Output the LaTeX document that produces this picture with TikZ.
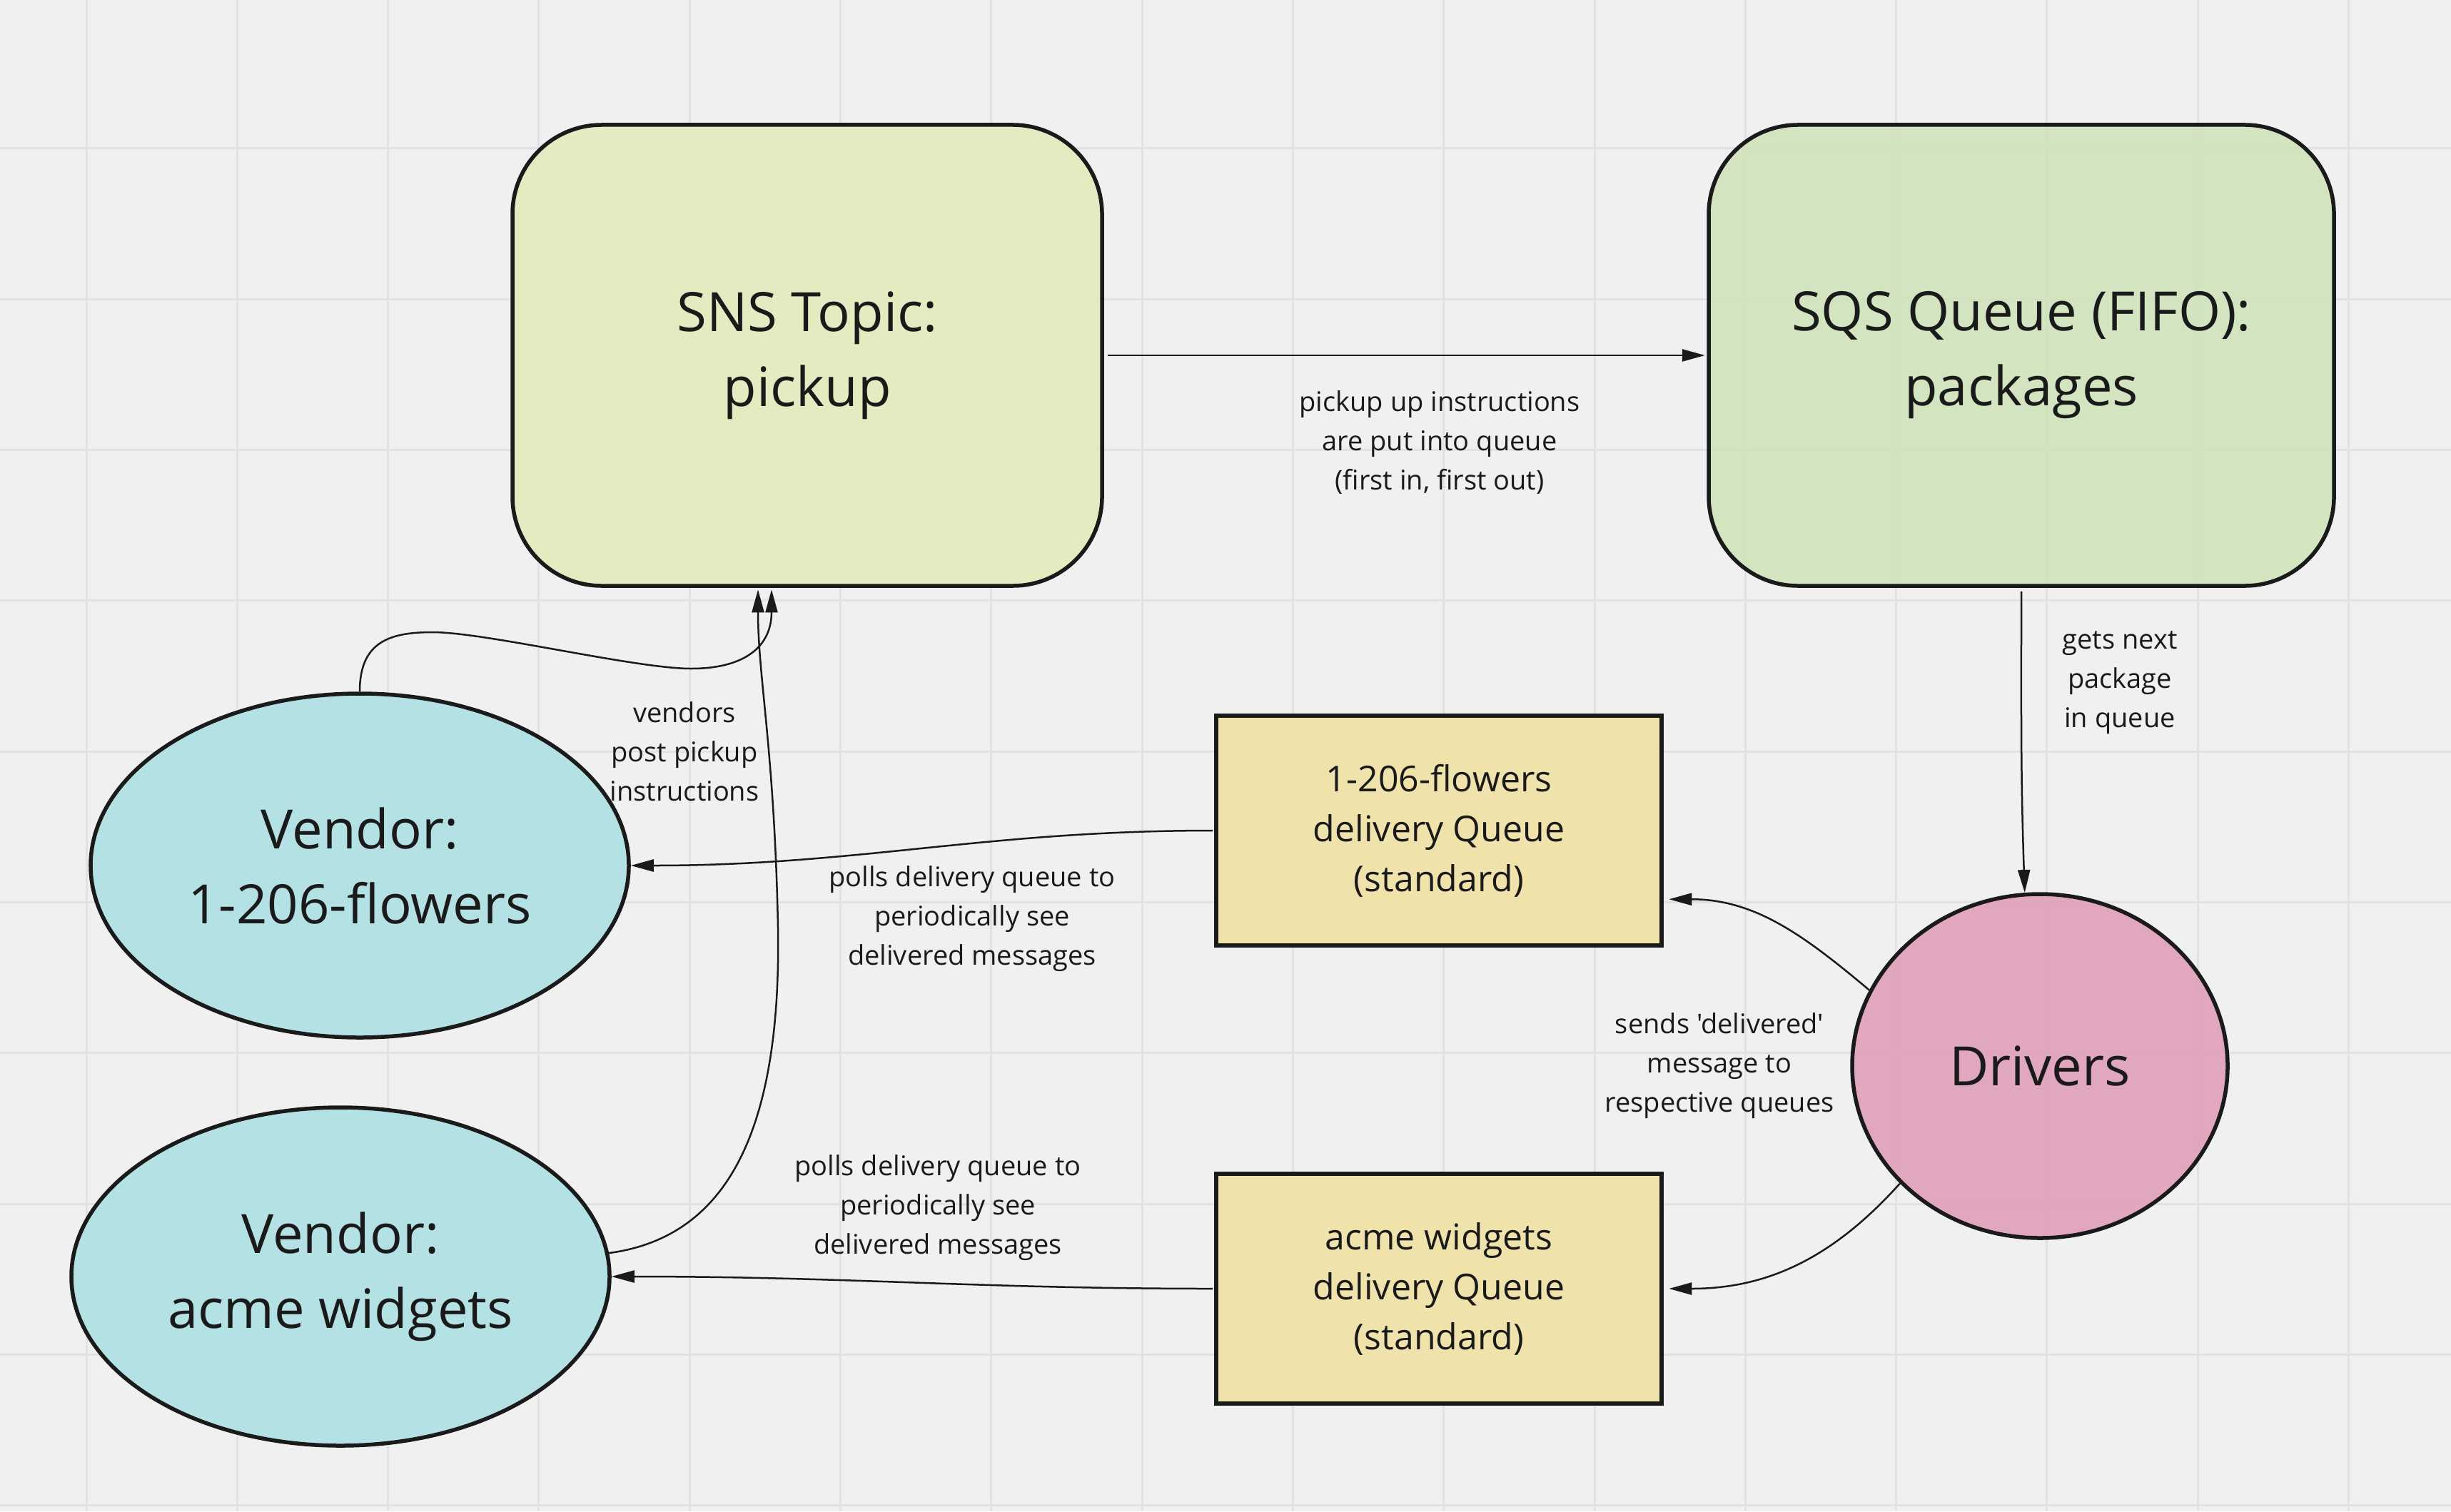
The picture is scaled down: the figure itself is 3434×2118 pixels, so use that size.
\documentclass[tikz,border=0pt]{standalone}
\usepackage{fontspec}
\setmainfont{Open Sans}[Ligatures=TeXOff]
\usetikzlibrary{shapes.geometric,arrows.meta,calc}
\definecolor{bg}{HTML}{F0F0F0}
\definecolor{gridc}{HTML}{E2E2E2}
\definecolor{snsc}{HTML}{E4EBBD}
\definecolor{sqsc}{HTML}{D1E3BC}
\definecolor{vendc}{HTML}{AEE0E4}
\definecolor{queuec}{HTML}{F1E1A6}
\definecolor{drvc}{HTML}{DFA1BB}
\definecolor{ink}{HTML}{1A1A1A}
\begin{document}
\begin{tikzpicture}[x=0.2pt,y=-0.2pt,
  bigbox/.style={draw=ink, line width=1.1pt, rounded corners=25pt, align=center, inner sep=0pt,
    minimum height=129.2pt, font=\fontsize{15.2}{21}\selectfont, text=ink, fill opacity=0.92, text opacity=1},
  oval/.style={ellipse, draw=ink, line width=1.1pt, align=center, inner sep=0pt,
    font=\fontsize{15.2}{21}\selectfont, text=ink, fill opacity=0.92, text opacity=1},
  qbox/.style={draw=ink, line width=1.1pt, align=center, inner sep=0pt, minimum width=124.8pt,
    minimum height=64.4pt, fill=queuec, font=\fontsize{10}{14}\selectfont, text=ink, fill opacity=0.92, text opacity=1},
  lbl/.style={align=center, font=\fontsize{7.6}{11}\selectfont, text=ink, inner sep=0pt},
  conn/.style={draw=ink, line width=0.5pt, -{Triangle[length=6.4pt,width=3.4pt]}},
]
\fill[bg] (0,0) rectangle (3434,2118);
\useasboundingbox (0,0) rectangle (3434,2118);
\foreach \i in {0,...,15} \draw[gridc, line width=0.6pt] ({121+211.3*\i},0) -- ({121+211.3*\i},2118);
\foreach \j in {0,...,9} \draw[gridc, line width=0.6pt] (0,{208+211.3*\j}) -- (3434,{208+211.3*\j});

% nodes
\node[bigbox, fill=snsc, minimum width=165.2pt] (sns) at (1131,498) {SNS Topic:\\pickup};
\node[bigbox, fill=sqsc, minimum width=175.2pt] (sqs) at (2832,498) {SQS Queue (FIFO):\\packages};
\node[oval, fill=vendc, minimum width=150.8pt, minimum height=96.4pt] (v1) at (504,1213) {Vendor:\\1-206-flowers};
\node[oval, fill=vendc, minimum width=150.8pt, minimum height=94.8pt] (v2) at (477,1789) {Vendor:\\acme widgets};
\node[qbox] (q1) at (2016,1164) {1-206-flowers\\delivery Queue\\(standard)};
\node[qbox] (q2) at (2016,1806) {acme widgets\\delivery Queue\\(standard)};
\node[oval, fill=drvc, minimum width=105.2pt, minimum height=96.4pt] (drv) at (2858,1494) {Drivers};

% labels
\node[lbl] (l1) at (2017,620) {pickup up instructions\\are put into queue\\(first in, first out)};
\node[lbl] (l2) at (2970,957) {gets next\\package\\in queue};
\node[lbl] (l3) at (2409,1494) {sends 'delivered'\\message to\\respective queues};
\node[lbl] (l4) at (1362,1288) {polls delivery queue to\\periodically see\\delivered messages};
\node[lbl] (l5) at (1314,1693) {polls delivery queue to\\periodically see\\delivered messages};
\node[lbl] (l6) at (959,1053) {vendors\\post pickup\\instructions};

% connectors
\draw[conn] ([xshift=1pt]sns.east) -- ([xshift=-0.5pt]sqs.west);
\draw[conn] ([yshift=-1pt]sqs.south) to[out=-90,in=92] (drv.95);
\draw[conn] (drv.156) to[out=140,in=0] ([xshift=1.5pt]q1.-17);
\draw[conn] (drv.220) to[out=228,in=0] ([xshift=1.5pt]q2.east);
\draw[conn] ([xshift=-0.5pt]q1.west) to[out=180,in=0] (v1.east);
\draw[conn] ([xshift=-0.5pt]q2.west) to[out=180,in=0] (v2.east);
\draw[conn] (v1.north) .. controls (504,900) and (545,886) .. (606,886)
  .. controls (680,886) and (890,937) .. (968,937)
  .. controls (1045,937) and (1081,905) .. ($(sns.south)+(-10pt,-0.5pt)$);
\draw[conn] (v2.5) .. controls (1010,1735) and (1095,1600) .. (1090,1300)
  .. controls (1085,1050) and (1062,950) .. ($(sns.south)+(-13.8pt,-0.5pt)$);
\end{tikzpicture}
\end{document}
